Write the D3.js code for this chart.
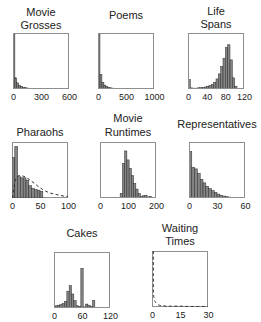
<!DOCTYPE html>
<html lang="en">
<head>
<meta charset="UTF-8">
<title>Histograms</title>
<script src="https://d3js.org/d3.v7.min.js"></script>
<style>
  body { margin: 0; background: #fff; }
  svg text { font-family: "Liberation Sans", Arial, sans-serif; fill: #222; }
</style>
</head>
<body>
<script>
// ---- data (bar heights are relative to the tallest possible bar) ----
const grossesTicks = [0, 300, 600];
const grossesBinStart = 0, grossesBinWidth = 20;
const grossesHeights = [0.98, 0.2, 0.11, 0.065, 0.045, 0.032, 0.024, 0.018, 0.014, 0.011, 0.009, 0.007, 0.006, 0.005, 0.004];

const poemsTicks = [0, 500, 1000];
const poemsBinStart = 0, poemsBinWidth = 35;
const poemsHeights = [0.98, 0.26, 0.12, 0.07, 0.045, 0.03, 0.022, 0.016, 0.012, 0.01, 0.008, 0.006, 0.005, 0.004, 0.003, 0.003, 0.002];

const lifeTicks = [0, 40, 80, 120];
const lifeBinStart = 0, lifeBinWidth = 5;
const lifeHeights = [0.17, 0.02, 0.015, 0.015, 0.02, 0.025, 0.03, 0.035, 0.05, 0.06, 0.08, 0.12,
  0.18, 0.27, 0.4, 0.55, 0.74, 0.79, 0.52, 0.2, 0.05, 0.01];

const pharaohTicks = [0, 50, 100];
const pharaohBinStart = 0, pharaohBinWidth = 5;
const pharaohHeights = [0.72, 0.92, 0.38, 0.36, 0.36, 0.32, 0.22, 0.17, 0.15, 0.14, 0.12];
const pharaohFitX = [1, 3, 5, 8, 12, 20, 28, 35, 45, 55, 65, 75, 85, 95, 100];
const pharaohFitY = [0, 0.15, 0.28, 0.36, 0.4, 0.39, 0.35, 0.3, 0.22, 0.15, 0.1, 0.07, 0.05, 0.03, 0.025];

const runtimeTicks = [0, 100, 200];
const runtimeBinStart = 72, runtimeBinWidth = 8;
const runtimeHeights = [0.08, 0.62, 0.84, 0.68, 0.53, 0.4, 0.26, 0.16, 0.08, 0.03, 0.04, 0.05, 0.02, 0.03];

const repTicks = [0, 30, 60];
const repBinStart = 0, repBinWidth = 3;
const repHeights = [0.83, 0.55, 0.52, 0.44, 0.33, 0.27, 0.21, 0.17, 0.13, 0.1, 0.07, 0.05, 0.035, 0.025, 0.015, 0.01, 0.005];

const cakeTicks = [0, 60, 120];
const cakeBinStart = -2.5, cakeBinWidth = 5;
const cakeHeights = [0.03, 0.04, 0.05, 0.06, 0.08, 0.12, 0.3, 0.4, 0.25, 0.13, 0.04, 0.03, 0.71,
  0.02, 0.07, 0.05, 0.03, 0.13, 0.01, 0.01, 0.005, 0.005];

const waitTicks = [0, 15, 30];
const waitFitX = [0.7, 0.72, 0.75, 0.85, 1.2, 1.8, 2.6, 4, 6, 10, 15, 20, 25, 30];
const waitFitY = [1.0, 0.6, 0.35, 0.22, 0.14, 0.09, 0.06, 0.03, 0.02, 0.015, 0.015, 0.01, 0.01, 0.01];

// ---- layout ----
const W = 261, H = 322, S = 56;
const panels = [
  {title: ["Movie", "Grosses"], ty: [12, 25], bx: 13, by: 33, ticks: grossesTicks,
   bins: [grossesBinStart, grossesBinWidth, grossesHeights]},
  {title: ["Poems"], ty: [15], bx: 98, by: 33, ticks: poemsTicks,
   bins: [poemsBinStart, poemsBinWidth, poemsHeights]},
  {title: ["Life", "Spans"], ty: [11, 24], bx: 188, by: 33, ticks: lifeTicks,
   bins: [lifeBinStart, lifeBinWidth, lifeHeights]},
  {title: ["Pharaohs"], ty: [132], bx: 12, by: 142, ticks: pharaohTicks,
   bins: [pharaohBinStart, pharaohBinWidth, pharaohHeights], fit: [pharaohFitX, pharaohFitY]},
  {title: ["Movie", "Runtimes"], ty: [118, 132], bx: 100, by: 142, ticks: runtimeTicks,
   bins: [runtimeBinStart, runtimeBinWidth, runtimeHeights]},
  {title: ["Representatives"], ty: [124], bx: 189, by: 142, ticks: repTicks,
   bins: [repBinStart, repBinWidth, repHeights]},
  {title: ["Cakes"], ty: [233], bx: 54, by: 252, ticks: cakeTicks,
   bins: [cakeBinStart, cakeBinWidth, cakeHeights]},
  {title: ["Waiting", "Times"], ty: [228, 241], bx: 152, by: 251, ticks: waitTicks,
   fit: [waitFitX, waitFitY]}
];

const svg = d3.select('body').append('svg')
  .attr('width', W)
  .attr('height', H);

panels.forEach((p, k) => {
  const g = svg.append('g');
  const xMax = p.ticks[p.ticks.length - 1];
  const x = d3.scaleLinear().domain([0, xMax]).range([p.bx, p.bx + S]);
  const y = d3.scaleLinear().domain([0, 1]).range([p.by + S, p.by]);

  const clipId = 'clip' + k;
  g.append('clipPath').attr('id', clipId)
    .append('rect')
    .attr('x', p.bx).attr('y', p.by - 2)
    .attr('width', S).attr('height', S + 2);

  const plot = g.append('g').attr('clip-path', `url(#${clipId})`);

  if (p.bins) {
    const [start, width, heights] = p.bins;
    const bars = heights.map((h, i) => ({x0: start + i * width, x1: start + (i + 1) * width, h}));
    plot.selectAll('rect.bar')
      .data(bars)
      .enter().append('rect')
      .attr('class', 'bar')
      .attr('x', d => x(d.x0))
      .attr('width', d => x(d.x1) - x(d.x0))
      .attr('y', d => y(d.h))
      .attr('height', d => y(0) - y(d.h))
      .attr('fill', '#858585')
      .attr('stroke', '#2a2a2a')
      .attr('stroke-width', 0.5);
  }

  // frame
  g.append('rect')
    .attr('x', p.bx + 0.5).attr('y', p.by + 0.5)
    .attr('width', S - 1).attr('height', S - 1)
    .attr('fill', 'none')
    .attr('stroke', '#8e8e8e')
    .attr('stroke-width', 1);

  // fitted curve drawn over the frame so it stays visible near the edge
  if (p.fit) {
    const pts = p.fit[0].map((v, i) => [v, p.fit[1][i]]);
    plot.append('path')
      .datum(pts)
      .attr('fill', 'none')
      .attr('stroke', '#333')
      .attr('stroke-width', 1)
      .attr('stroke-dasharray', '3,2.5')
      .attr('d', d3.line().x(d => x(d[0])).y(d => y(d[1])).curve(d3.curveMonotoneX));
    g.node().appendChild(plot.node());
  }

  // tick labels only
  const axis = g.append('g')
    .attr('transform', `translate(0,${p.by + S})`)
    .call(d3.axisBottom(x).tickValues(p.ticks).tickSize(0).tickPadding(5).tickFormat(d3.format('d')));
  axis.select('.domain').remove();
  axis.selectAll('text')
    .attr('font-size', 9)
    .attr('fill', '#333')
    .style('font-family', '"Liberation Sans", Arial, sans-serif');

  // title
  g.selectAll('text.title')
    .data(p.title)
    .enter().append('text')
    .attr('class', 'title')
    .attr('x', p.bx + S / 2)
    .attr('y', (d, i) => p.ty[i] + 4)
    .attr('text-anchor', 'middle')
    .attr('font-size', 11)
    .text(d => d);
});
</script>
</body>
</html>
